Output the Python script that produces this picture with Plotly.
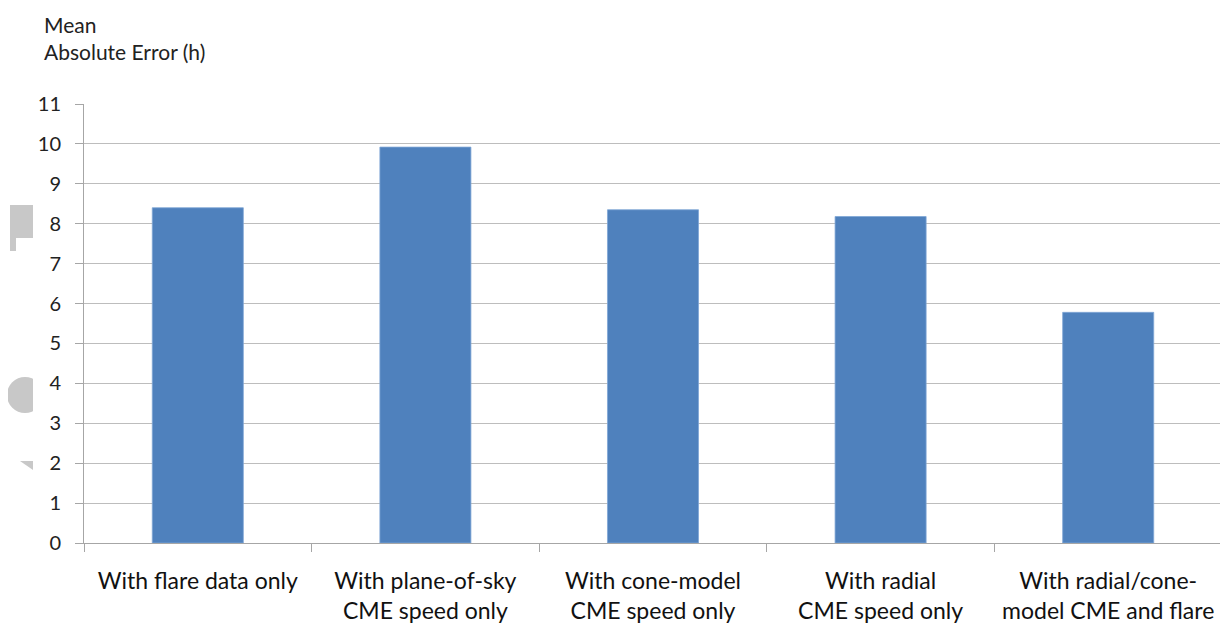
import plotly.graph_objects as go

categories = [
    "With flare data only",
    "With plane-of-sky<br>CME speed only",
    "With cone-model<br>CME speed only",
    "With radial<br>CME speed only",
    "With radial/cone-<br>model CME and flare",
]
mae_hours = [8.4, 9.92, 8.35, 8.18, 5.78]
y_ticks = list(range(0, 12))

# page body has an 8px margin, so the figure is drawn 8px right/down
OFF = 8
W, H = 1228 - OFF, 632 - OFF
# plot area on screen: x 84..1222, y 104..543
SX0, SX1, SY0, SY1 = 84, 1222, 104, 543
L, R, T, B = SX0 - OFF, (W + OFF) - SX1, SY0 - OFF, (H + OFF) - SY1

fig = go.Figure(go.Bar(
    x=categories, y=mae_hours, width=0.4,
    marker=dict(color="#4f81bd", line=dict(color="#7fa6d6", width=0.8)),
))

fig.update_layout(
    width=W, height=H,
    margin=dict(l=L, r=R, t=T, b=B, autoexpand=False),
    paper_bgcolor="white", plot_bgcolor="white",
    font=dict(family="Lato, 'Open Sans', sans-serif", color="#222"),
    showlegend=False,
)
fig.update_xaxes(
    type="category", showgrid=False, tickson="boundaries",
    ticks="outside", ticklen=8, tickcolor="#a6a6a6", tickwidth=1,
    showline=True, linecolor="#a6a6a6", linewidth=1,
    tickfont=dict(size=23, color="#111"), automargin=False,
    ticklabelstandoff=17, tickangle=0,
)
fig.update_yaxes(
    range=[0, 11], tickvals=y_ticks, showgrid=True, gridcolor="#bdbdbd", gridwidth=1,
    ticks="outside", ticklen=8, tickcolor="#a6a6a6",
    showline=True, linecolor="#a6a6a6", linewidth=1,
    tickfont=dict(size=20, color="#222"), zeroline=False, automargin=False,
    ticklabelstandoff=10,
)

PW, PH = SX1 - SX0, SY1 - SY0
def px(sx):
    return (sx - SX0) / PW
def py(sy):
    return (SY1 - sy) / PH

fig.add_annotation(
    xref="paper", yref="paper", x=px(42), y=py(10),
    xanchor="left", yanchor="top", align="left", showarrow=False,
    text="Mean<br>Absolute Error (h)", font=dict(size=21, color="#222"),
)

# faint grey watermark fragments at left edge
shape_style = dict(xref="paper", yref="paper", fillcolor="#c8c8c8", line=dict(width=0), layer="below")
fig.add_shape(type="rect", x0=px(10), x1=px(33), y0=py(238), y1=py(205), **shape_style)
fig.add_shape(type="rect", x0=px(10), x1=px(16), y0=py(251), y1=py(236), **shape_style)
fig.add_shape(type="circle", x0=px(7), x1=px(43), y0=py(413), y1=py(377), **shape_style)
fig.add_shape(type="rect", x0=px(33), x1=px(62), y0=py(420), y1=py(370),
              xref="paper", yref="paper", fillcolor="white", line=dict(width=0), layer="below")
fig.add_shape(type="path",
              path=f"M {px(20)} {py(461)} L {px(33)} {py(461)} L {px(33)} {py(470)} Z",
              **shape_style)

fig.write_html("out.html")
